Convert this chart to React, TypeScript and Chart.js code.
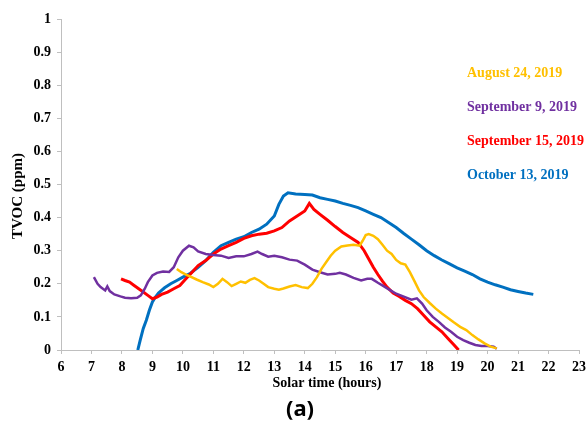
import React, { useEffect, useRef } from "react";
import { Chart, registerables } from "chart.js";

Chart.register(...registerables);

// Solar time (hours) and TVOC (ppm) per measurement day
const augTime = [9.8, 9.95, 10.1, 10.25, 10.45, 10.65, 10.85, 11.0, 11.15, 11.3, 11.45, 11.6, 11.75, 11.9, 12.05, 12.2, 12.35, 12.5, 12.65, 12.8, 13.0, 13.15, 13.3, 13.5, 13.7, 13.9, 14.1, 14.25, 14.4, 14.55, 14.7, 14.85, 15.0, 15.2, 15.4, 15.6, 15.8, 15.9, 16.0, 16.1, 16.25, 16.4, 16.55, 16.7, 16.85, 17.0, 17.15, 17.3, 17.45, 17.6, 17.75, 17.9, 18.1, 18.3, 18.5, 18.7, 18.9, 19.1, 19.3, 19.5, 19.7, 19.9, 20.1, 20.3];
const augTvoc = [0.245, 0.235, 0.228, 0.222, 0.213, 0.205, 0.198, 0.19, 0.2, 0.215, 0.205, 0.193, 0.2, 0.207, 0.203, 0.212, 0.217, 0.21, 0.2, 0.19, 0.185, 0.182, 0.186, 0.192, 0.196, 0.19, 0.187, 0.2, 0.22, 0.245, 0.265, 0.285, 0.3, 0.313, 0.316, 0.318, 0.315, 0.33, 0.347, 0.35, 0.345, 0.335, 0.318, 0.3, 0.29, 0.272, 0.262, 0.258, 0.235, 0.208, 0.18, 0.16, 0.142, 0.125, 0.11, 0.097, 0.083, 0.07, 0.06, 0.045, 0.032, 0.02, 0.01, 0.005];

const sep9Time = [7.08, 7.2, 7.3, 7.45, 7.52, 7.6, 7.75, 7.95, 8.1, 8.3, 8.5, 8.62, 8.75, 8.85, 9.0, 9.15, 9.35, 9.55, 9.7, 9.85, 10.0, 10.2, 10.35, 10.5, 10.75, 11.0, 11.25, 11.5, 11.75, 12.0, 12.25, 12.45, 12.6, 12.8, 13.0, 13.25, 13.5, 13.75, 14.0, 14.25, 14.5, 14.75, 15.0, 15.15, 15.35, 15.6, 15.85, 16.05, 16.2, 16.4, 16.6, 16.8, 17.0, 17.25, 17.5, 17.68, 17.85, 18.0, 18.2, 18.4, 18.6, 18.8, 19.0, 19.2, 19.4, 19.6, 19.8, 20.0, 20.2, 20.3];
const sep9Tvoc = [0.22, 0.2, 0.19, 0.18, 0.192, 0.178, 0.168, 0.162, 0.158, 0.156, 0.158, 0.165, 0.185, 0.205, 0.225, 0.233, 0.237, 0.236, 0.25, 0.28, 0.3, 0.315, 0.31, 0.298, 0.29, 0.287, 0.285, 0.278, 0.283, 0.283, 0.29, 0.297, 0.29, 0.282, 0.285, 0.28, 0.273, 0.27, 0.258, 0.243, 0.235, 0.228, 0.23, 0.233, 0.228, 0.218, 0.21, 0.215, 0.215, 0.203, 0.192, 0.181, 0.17, 0.161, 0.152, 0.156, 0.14, 0.12, 0.1, 0.085, 0.068, 0.055, 0.04, 0.03, 0.022, 0.015, 0.012, 0.012, 0.01, 0.004];

const sep15Time = [7.97, 8.1, 8.25, 8.4, 8.55, 8.7, 8.85, 9.0, 9.15, 9.3, 9.5, 9.7, 9.9, 10.1, 10.3, 10.5, 10.75, 11.0, 11.25, 11.5, 11.75, 12.0, 12.25, 12.5, 12.75, 13.0, 13.25, 13.5, 13.75, 14.0, 14.15, 14.3, 14.5, 14.75, 15.0, 15.25, 15.5, 15.75, 15.95, 16.1, 16.25, 16.4, 16.55, 16.7, 16.9, 17.1, 17.3, 17.5, 17.7, 17.9, 18.1, 18.3, 18.5, 18.7, 18.9, 19.05];
const sep15Tvoc = [0.215, 0.21, 0.205, 0.195, 0.185, 0.175, 0.165, 0.155, 0.16, 0.168, 0.175, 0.185, 0.195, 0.215, 0.235, 0.255, 0.27, 0.29, 0.305, 0.315, 0.325, 0.337, 0.345, 0.35, 0.353, 0.36, 0.37, 0.39, 0.405, 0.42, 0.443, 0.425, 0.41, 0.392, 0.373, 0.355, 0.34, 0.325, 0.3, 0.275, 0.25, 0.228, 0.208, 0.19, 0.172, 0.162, 0.15, 0.14, 0.125, 0.105, 0.085, 0.07, 0.055, 0.035, 0.015, 0];

const oct13Time = [8.52, 8.6, 8.7, 8.8, 8.9, 9.0, 9.1, 9.2, 9.3, 9.4, 9.6, 9.8, 10.0, 10.25, 10.5, 10.75, 11.0, 11.25, 11.5, 11.75, 12.0, 12.25, 12.5, 12.75, 13.0, 13.15, 13.3, 13.45, 13.7, 14.0, 14.25, 14.5, 14.75, 15.0, 15.25, 15.5, 15.75, 16.0, 16.25, 16.5, 16.75, 17.0, 17.25, 17.5, 17.75, 18.0, 18.25, 18.5, 18.75, 19.0, 19.25, 19.5, 19.75, 20.0, 20.25, 20.5, 20.75, 21.0, 21.25, 21.5];
const oct13Tvoc = [0, 0.03, 0.065, 0.09, 0.12, 0.145, 0.16, 0.172, 0.18, 0.188, 0.2, 0.21, 0.22, 0.232, 0.25, 0.27, 0.295, 0.315, 0.325, 0.335, 0.342, 0.355, 0.365, 0.38, 0.405, 0.44, 0.465, 0.475, 0.471, 0.47, 0.468, 0.46, 0.455, 0.45, 0.443, 0.437, 0.43, 0.42, 0.41, 0.4, 0.385, 0.37, 0.352, 0.335, 0.318, 0.3, 0.285, 0.272, 0.26, 0.248, 0.238, 0.228, 0.215, 0.205, 0.197, 0.19, 0.182, 0.177, 0.172, 0.168];

const seriesNames = ["August 24, 2019", "September 9, 2019", "September 15, 2019", "October 13, 2019"];
const seriesColors = ["#FFC000", "#7030A0", "#FF0000", "#0070C0"];
const yTickLabels = ["0", "0.1", "0.2", "0.3", "0.4", "0.5", "0.6", "0.7", "0.8", "0.9", "1"];
const xTitle = "Solar time (hours)";
const yTitle = "TVOC (ppm)";
const panelLabel = "(a)";

const serif = "'Liberation Serif', 'Times New Roman', serif";
const axisGrey = "#BFBFBF";

const toPoints = (xs: number[], ys: number[]) => xs.map((x, i) => ({ x, y: ys[i] }));

// Axis titles, coloured series names and the panel letter
const figureText = {
  id: "figureText",
  afterDraw(chart: any) {
    const { ctx, chartArea } = chart;
    ctx.save();
    ctx.fillStyle = "#000";
    ctx.textBaseline = "middle";
    ctx.textAlign = "center";
    ctx.font = `bold 14px ${serif}`;
    ctx.fillText(xTitle, chartArea.left + 266, chartArea.bottom + 33);

    ctx.save();
    ctx.translate(18.5, chartArea.top + 177);
    ctx.rotate(-Math.PI / 2);
    ctx.font = `bold 15px ${serif}`;
    ctx.fillText(yTitle, 0, 0);
    ctx.restore();

    ctx.textAlign = "left";
    ctx.font = `bold 14px ${serif}`;
    seriesNames.forEach((name, i) => {
      ctx.fillStyle = seriesColors[i];
      ctx.fillText(name, 467, 73 + i * 34);
    });

    ctx.fillStyle = "#000";
    ctx.textAlign = "center";
    ctx.font = "bold 22px 'Noto Sans', 'DejaVu Sans', sans-serif";
    ctx.fillText(panelLabel, 300, 410);
    ctx.restore();
  },
};

export default function App() {
  const canvasRef = useRef<HTMLCanvasElement | null>(null);

  useEffect(() => {
    if (!canvasRef.current) return;
    const series = [
      toPoints(augTime, augTvoc),
      toPoints(sep9Time, sep9Tvoc),
      toPoints(sep15Time, sep15Tvoc),
      toPoints(oct13Time, oct13Tvoc),
    ];
    const chart = new Chart(canvasRef.current, {
      type: "line",
      data: {
        datasets: series.map((pts, i) => ({
          label: seriesNames[i],
          data: pts,
          borderColor: seriesColors[i],
          backgroundColor: seriesColors[i],
          borderWidth: i === 2 || i === 3 ? 3 : 2.5,
          pointRadius: 0,
          tension: 0,
          fill: false,
        })),
      },
      options: {
        responsive: false,
        animation: false,
        events: [],
        layout: { padding: { left: 0, right: 7, top: 19, bottom: 0 } },
        plugins: { legend: { display: false }, tooltip: { enabled: false } },
        scales: {
          x: {
            type: "linear",
            min: 6,
            max: 23,
            afterFit(scale: any) {
              scale.height = 75;
              scale.paddingLeft = 0;
              scale.paddingRight = 0;
            },
            ticks: {
              stepSize: 1,
              autoSkip: false,
              maxRotation: 0,
              padding: 5,
              color: "#000",
              font: { family: serif, weight: "bold", size: 14 },
            },
            grid: {
              drawOnChartArea: false,
              drawTicks: true,
              tickLength: 4,
              color: axisGrey,
            },
            border: { color: axisGrey, width: 1 },
          },
          y: {
            type: "linear",
            min: 0,
            max: 1,
            afterFit(scale: any) {
              scale.width = 61;
              scale.paddingTop = 0;
              scale.paddingBottom = 0;
            },
            ticks: {
              stepSize: 0.1,
              padding: 6,
              color: "#000",
              font: { family: serif, weight: "bold", size: 14 },
              callback: (_v: any, i: number) => yTickLabels[i],
            },
            grid: {
              drawOnChartArea: false,
              drawTicks: true,
              tickLength: 4,
              color: axisGrey,
            },
            border: { color: axisGrey, width: 1 },
          },
        },
      },
      plugins: [figureText],
    });
    return () => chart.destroy();
  }, []);

  return (
    <div style={{ position: "fixed", left: 0, top: 0, width: 586, height: 425, background: "#fff", overflow: "hidden" }}>
      <canvas ref={canvasRef} width={586} height={425} style={{ display: "block" }} />
    </div>
  );
}
